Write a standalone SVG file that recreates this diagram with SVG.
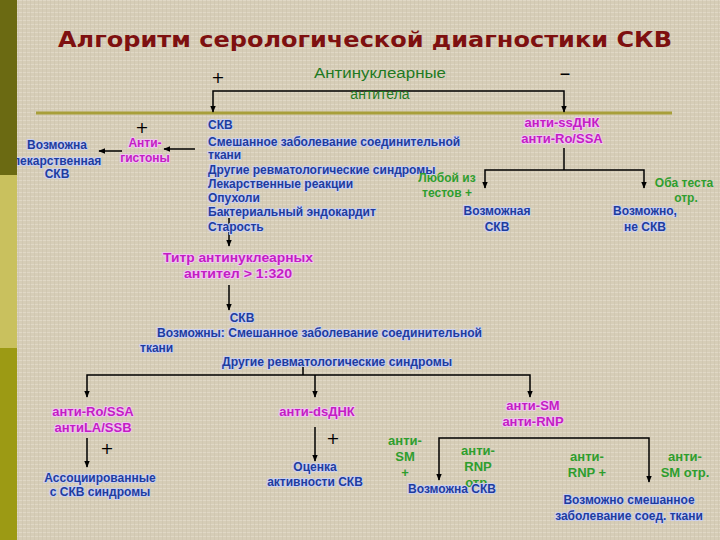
<svg xmlns="http://www.w3.org/2000/svg" width="720" height="540" viewBox="0 0 720 540">
<defs>
<pattern id="tex" width="8" height="8" patternUnits="userSpaceOnUse">
<rect width="8" height="8" fill="#d6cdb7"/>
<path d="M0 0.5H8M0 4.5H8" stroke="#e0d8c6" stroke-width="1"/>
<path d="M2.5 0V8M6.5 0V8" stroke="#cdc3ac" stroke-width="0.6"/>
</pattern>
<marker id="ah" viewBox="0 0 10 10" refX="9" refY="5" markerWidth="7" markerHeight="7" orient="auto-start-reverse" markerUnits="userSpaceOnUse">
<path d="M0 1L10 5L0 9Z" fill="#000"/>
</marker>
</defs>
<style>
text{font-family:"Liberation Sans",Arial,sans-serif;font-weight:bold;}
.t{font-family:"DejaVu Sans","Liberation Sans",sans-serif;font-size:21px;fill:#7e1010;}
.b{font-size:12px;fill:#1e3c9e;stroke:#c9cff0;stroke-width:2;paint-order:stroke;stroke-linejoin:round;}
.m{font-size:13px;fill:#c41cc4;stroke:#efc6ef;stroke-width:2;paint-order:stroke;stroke-linejoin:round;}
.g{font-size:13px;fill:#2e9e2e;}
.gs{font-size:12px;fill:#2e9e2e;}
.gd{font-size:14px;fill:#1f7a1f;font-weight:normal;}
.p{font-size:16px;fill:#000;font-weight:normal;font-family:"DejaVu Sans",sans-serif;}
.c{text-anchor:middle;}
.ln{stroke:#000;stroke-width:1.5;fill:none;}
.ar{stroke:#000;stroke-width:1.5;fill:none;marker-end:url(#ah);}
.a2{stroke:#000;stroke-width:1.5;fill:none;marker-start:url(#ah);marker-end:url(#ah);}
</style>
<rect width="720" height="540" fill="url(#tex)"/>
<line x1="36" y1="113" x2="672" y2="113" stroke="#a89f3a" stroke-width="3"/>

<g id="title"><text class="t c" x="365" y="47" textLength="614" lengthAdjust="spacingAndGlyphs">Алгоритм серологической диагностики  СКВ</text></g>

<g id="connectors">
<polyline class="a2" points="213,112 213,91 564,91 564,112"/>
<line class="ar" x1="195" y1="149" x2="164" y2="149"/>
<line class="ar" x1="122" y1="151" x2="99" y2="151"/>
<line class="ar" x1="229" y1="218" x2="229" y2="246"/>
<line class="ln" x1="564" y1="148" x2="564" y2="170"/>
<polyline class="a2" points="485,188 485,170 644,170 644,188"/>
<line class="ar" x1="229" y1="285" x2="229" y2="310"/>
<line class="ln" x1="303" y1="364" x2="303" y2="375"/>
<polyline class="a2" points="87,397 87,375 530,375 530,397"/>
<line class="ar" x1="315" y1="375" x2="315" y2="397"/>
<line class="ar" x1="87" y1="438" x2="87" y2="467"/>
<line class="ar" x1="315" y1="427" x2="315" y2="461"/>
<polyline class="a2" points="649,482 649,438 439,438 439,480"/>
</g>

<g id="ana">
<text class="gd c" x="380" y="78" textLength="132" lengthAdjust="spacingAndGlyphs">Антинуклеарные</text>
<text class="gd c" x="380" y="99">антитела</text>
<text class="p c" x="218" y="83">+</text>
<text class="p c" x="565" y="80" style="font-size:22px">–</text>
</g>

<g id="n-histone">
<text class="p c" x="142" y="133">+</text>
<text class="m c" x="145" y="147" style="font-size:12px">Анти-</text>
<text class="m c" x="145" y="162" style="font-size:12px">гистоны</text>
</g>

<g id="n-drug">
<text class="b c" x="57" y="149">Возможна</text>
<text class="b c" x="57" y="165">лекарственная</text>
<text class="b c" x="57" y="178">СКВ</text>
</g>

<g id="n-positive">
<text class="b" x="208" y="129">СКВ</text>
<text class="b" x="208" y="146">Смешанное заболевание соединительной</text>
<text class="b" x="208" y="159">ткани</text>
<text class="b" x="208" y="174">Другие ревматологические синдромы</text>
<text class="b" x="208" y="188">Лекарственные реакции</text>
<text class="b" x="208" y="202">Опухоли</text>
<text class="b" x="208" y="216">Бактериальный эндокардит</text>
<text class="b" x="208" y="231">Старость</text>
</g>

<g id="n-ssdna">
<text class="m c" x="562" y="127">анти-ssДНК</text>
<text class="m c" x="562" y="143">анти-Ro/SSA</text>
</g>

<g id="l-any">
<text class="gs c" x="447" y="182">Любой из</text>
<text class="gs c" x="447" y="197">тестов +</text>
</g>
<g id="l-both">
<text class="gs c" x="684" y="187">Оба теста</text>
<text class="gs c" x="686" y="202">отр.</text>
</g>
<g id="n-possible">
<text class="b c" x="497" y="215">Возможная</text>
<text class="b c" x="497" y="231">СКВ</text>
</g>
<g id="n-notsle">
<text class="b c" x="645" y="215">Возможно,</text>
<text class="b c" x="645" y="231">не СКВ</text>
</g>

<g id="n-titer">
<text class="m c" x="238" y="262" style="font-size:12px" textLength="150" lengthAdjust="spacingAndGlyphs">Титр антинуклеарных</text>
<text class="m c" x="238" y="278" style="font-size:12px" textLength="108" lengthAdjust="spacingAndGlyphs">антител &gt; 1:320</text>
</g>

<g id="n-sle2">
<text class="b c" x="242" y="322">СКВ</text>
<text class="b" x="157" y="337" textLength="325" lengthAdjust="spacingAndGlyphs">Возможны: Смешанное заболевание соединительной</text>
<text class="b" x="140" y="352">ткани</text>
<text class="b" x="222" y="366" textLength="230" lengthAdjust="spacingAndGlyphs">Другие ревматологические синдромы</text>
</g>

<g id="n-ro">
<text class="m c" x="93" y="416">анти-Ro/SSA</text>
<text class="m c" x="93" y="432">антиLA/SSB</text>
<text class="p c" x="107" y="454">+</text>
</g>
<g id="n-assoc">
<text class="b c" x="100" y="482">Ассоциированные</text>
<text class="b c" x="100" y="496">с СКВ синдромы</text>
</g>

<g id="n-dsdna">
<text class="m c" x="317" y="416">анти-dsДНК</text>
<text class="p c" x="333" y="444">+</text>
</g>
<g id="n-activity">
<text class="b c" x="315" y="471">Оценка</text>
<text class="b c" x="315" y="486">активности СКВ</text>
</g>

<g id="n-sm">
<text class="m c" x="533" y="410">анти-SM</text>
<text class="m c" x="533" y="426">анти-RNP</text>
</g>

<g id="l-smpos">
<text class="g c" x="405" y="445">анти-</text>
<text class="g c" x="405" y="461">SM</text>
<text class="g c" x="405" y="477">+</text>
</g>
<g id="l-rnpneg">
<text class="g c" x="478" y="455">анти-</text>
<text class="g c" x="478" y="471">RNP</text>
<text class="g c" x="478" y="487">отр.</text>
</g>
<g id="n-possible2">
<text class="b c" x="452" y="493">Возможна СКВ</text>
</g>
<g id="l-rnppos">
<text class="g c" x="587" y="461">анти-</text>
<text class="g c" x="587" y="477">RNP +</text>
</g>
<g id="l-smneg">
<text class="g c" x="685" y="461">анти-</text>
<text class="g c" x="685" y="477">SM отр.</text>
</g>
<g id="n-mctd">
<text class="b c" x="629" y="504">Возможно смешанное</text>
<text class="b c" x="629" y="520">заболевание соед. ткани</text>
</g>

<rect x="0" y="0" width="17" height="175" fill="#6b6a12"/>
<rect x="0" y="175" width="17" height="173" fill="#c9c15e"/>
<rect x="0" y="348" width="17" height="192" fill="#9c9a14"/>
</svg>
